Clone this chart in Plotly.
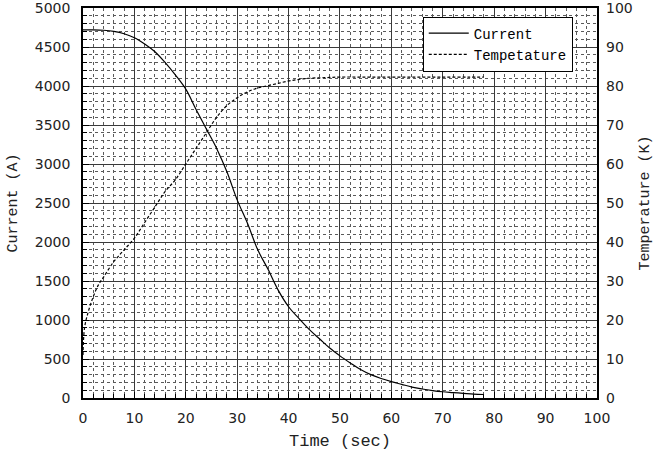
import plotly.graph_objects as go

# Current (A) vs time (sec)
time_current = [0, 2, 4, 6, 8, 10, 12, 14, 16, 18, 20, 22, 24, 26, 28, 30, 32, 34, 36, 38,
                40, 42, 44, 46, 48, 50, 52, 54, 56, 58, 60, 62, 64, 66, 68, 70, 72, 74, 76, 78]
current = [4720, 4720, 4715, 4700, 4670, 4620, 4540, 4440, 4300, 4140, 3960, 3700, 3450, 3200,
           2900, 2540, 2240, 1900, 1650, 1380, 1170, 1020, 880, 760, 640, 540, 450, 365, 300,
           250, 210, 175, 140, 115, 95, 80, 70, 60, 50, 45]

# Temperature (K) vs time (sec)
time_temp = [0, 0.3, 1, 2, 3, 4, 6, 8, 10, 12, 14, 16, 18, 20, 22, 24, 26, 28, 30, 32, 34,
             36, 38, 40, 42, 44, 46, 48, 50, 55, 60, 65, 70, 75, 78]
temperature = [11, 18, 22, 26, 29, 31, 35, 38, 41, 45, 49, 53, 56, 60, 64, 68, 72, 75, 77, 78.5,
               79.5, 80.1, 80.7, 81.3, 81.7, 82, 82.1, 82.2, 82.3, 82.3, 82.3, 82.3, 82.3, 82.3, 82.3]

x_ticks = [0, 10, 20, 30, 40, 50, 60, 70, 80, 90, 100]
current_ticks = [0, 500, 1000, 1500, 2000, 2500, 3000, 3500, 4000, 4500, 5000]
temp_ticks = [0, 10, 20, 30, 40, 50, 60, 70, 80, 90, 100]

series_names = ["Current", "Tempetature"]

mono = "Liberation Mono"
tickfont = dict(family="DejaVu Sans", size=14, color="#222")

fig = go.Figure()
fig.add_trace(go.Scatter(x=time_current, y=current, mode="lines", name=series_names[0],
                         line=dict(color="black", width=1.2, shape="spline")))
fig.add_trace(go.Scatter(x=time_temp, y=temperature, mode="lines", name=series_names[1],
                         yaxis="y2", line=dict(color="black", width=1.2, dash="3px,2px",
                                               shape="spline")))

grid_major = "#3a3a3a"
grid_minor = "#5a5a5a"

fig.update_layout(
    width=654, height=453, autosize=False,
    margin=dict(l=83, r=57, t=8, b=55, autoexpand=False),
    paper_bgcolor="white", plot_bgcolor="white",
    showlegend=True,
    legend=dict(x=0.661, y=0.978, xanchor="left", yanchor="top",
                bgcolor="white", bordercolor="black", borderwidth=1,
                font=dict(family=mono, size=14, color="black"),
                tracegroupgap=0, itemwidth=40),
    xaxis=dict(range=[0, 100.01], tickvals=x_ticks, automargin=False,
               ticklabeloverflow="allow",
               showgrid=True, gridcolor=grid_major, gridwidth=1,
               minor=dict(dtick=2, tick0=0, showgrid=True, gridcolor=grid_minor, griddash="dot",
                          ticks="inside", ticklen=4, tickcolor="black"),
               ticks="inside", ticklen=6, tickcolor="black",
               showline=True, linecolor="black", linewidth=1.5, mirror=True,
               zeroline=False, tickfont=tickfont, ticklabelstandoff=6,
               title=dict(text="Time (sec)", font=dict(family=mono, size=17, color="#222"),
                          standoff=10)),
    yaxis=dict(range=[0, 5000.5], tickvals=current_ticks, automargin=False,
               ticklabeloverflow="allow",
               showgrid=True, gridcolor=grid_major, gridwidth=1,
               minor=dict(dtick=100, tick0=0, showgrid=True, gridcolor=grid_minor, griddash="dot",
                          ticks="inside", ticklen=4, tickcolor="black"),
               ticks="inside", ticklen=6, tickcolor="black",
               showline=True, linecolor="black", linewidth=1.5, mirror=True,
               zeroline=False, tickfont=tickfont, ticklabelstandoff=8,
               title=dict(text="Current (A)", font=dict(family=mono, size=15, color="#222"),
                          standoff=14)),
    yaxis2=dict(range=[0, 100.01], tickvals=temp_ticks, overlaying="y", side="right",
                automargin=False, ticklabeloverflow="allow",
                showgrid=False, zeroline=False, ticks="", showline=False,
                tickfont=tickfont, ticklabelstandoff=8,
                title=dict(text="Temperature (K)", font=dict(family=mono, size=15, color="#222"),
                           standoff=12)),
)

fig.write_html("out.html", config={"displayModeBar": False},
               post_script="document.body.style.margin='0';document.body.style.overflow='hidden';")
